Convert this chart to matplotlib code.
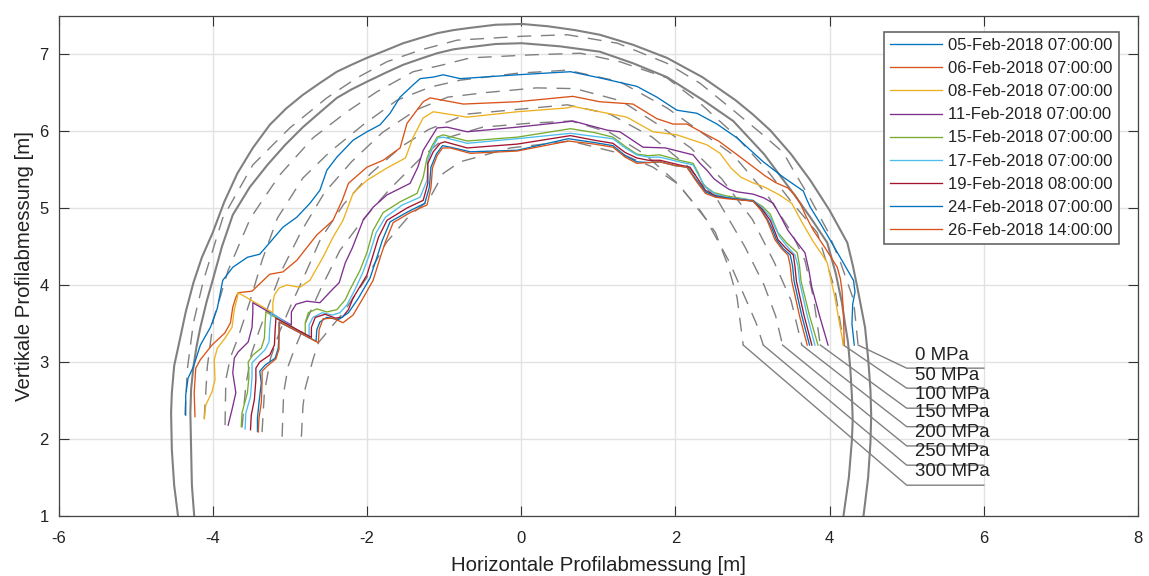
import matplotlib
matplotlib.use("Agg")
import matplotlib.pyplot as plt

plt.rcParams['font.family'] = ['Liberation Sans', 'DejaVu Sans']
plt.rcParams['axes.unicode_minus'] = False

# Tunnelprofil (aussen / innen)
outer_x = [-4.45, -4.50, -4.53, -4.54, -4.53, -4.50, -4.42, -4.35, -4.25, -4.14, -4.00, -3.85, -3.68, -3.48, -3.26, -3.05, -2.83, -2.60, -2.39, -2.20, -2.00, -1.75, -1.53, -1.30, -1.09, -0.88, -0.66, -0.33, 0.01, 0.35, 0.70, 1.02, 1.45, 1.89, 2.35, 2.78, 3.00, 3.23, 3.50, 3.75, 4.00, 4.23, 4.30, 4.36, 4.41, 4.46, 4.50, 4.53, 4.54, 4.53, 4.50, 4.44]
outer_y = [1.00, 1.40, 1.86, 2.34, 2.60, 2.95, 3.32, 3.65, 4.03, 4.36, 4.68, 5.08, 5.45, 5.78, 6.08, 6.29, 6.47, 6.63, 6.77, 6.86, 6.95, 7.05, 7.14, 7.21, 7.27, 7.31, 7.34, 7.38, 7.39, 7.36, 7.31, 7.25, 7.12, 6.95, 6.70, 6.40, 6.22, 6.01, 5.70, 5.36, 4.97, 4.55, 4.26, 3.97, 3.71, 3.45, 3.05, 2.64, 2.30, 1.95, 1.50, 1.00]
inner_x = [-4.24, -4.27, -4.28, -4.29, -4.28, -4.25, -4.21, -4.16, -4.08, -3.99, -3.88, -3.74, -3.52, -3.29, -3.06, -2.83, -2.60, -2.39, -2.20, -2.00, -1.75, -1.53, -1.30, -1.09, -0.88, -0.66, -0.33, 0.01, 0.50, 1.02, 1.45, 1.89, 2.36, 2.75, 3.15, 3.53, 3.75, 3.97, 4.08, 4.16, 4.20, 4.24, 4.27, 4.29, 4.30, 4.29, 4.25, 4.18]
inner_y = [1.00, 1.40, 1.86, 2.34, 2.65, 2.94, 3.20, 3.45, 3.78, 4.10, 4.50, 4.91, 5.27, 5.56, 5.82, 6.05, 6.25, 6.43, 6.54, 6.64, 6.76, 6.86, 6.94, 7.01, 7.06, 7.09, 7.13, 7.14, 7.10, 7.03, 6.88, 6.70, 6.40, 6.13, 5.70, 5.19, 4.88, 4.55, 4.15, 3.77, 3.50, 3.25, 2.90, 2.55, 2.25, 1.99, 1.50, 1.00]

# Spannungslinien
mpa0_x = [-4.36, -4.33, -4.25, -4.12, -3.87, -3.48, -3.00, -2.52, -2.13, -1.74, -1.31, -0.83, 0.01, 0.60, 1.25, 1.89, 2.32, 2.75, 3.10, 3.40, 3.53, 3.75, 3.97, 4.15, 4.31, 4.37]
mpa0_y = [2.31, 2.90, 3.51, 4.06, 4.87, 5.56, 6.04, 6.43, 6.69, 6.90, 7.05, 7.18, 7.23, 7.25, 7.14, 6.88, 6.62, 6.27, 5.98, 5.72, 5.49, 5.12, 4.71, 4.27, 3.81, 3.22]
mpa50_x = [-4.11, -4.07, -3.99, -3.80, -3.51, -3.13, -2.70, -2.26, -1.87, -1.40, -1.01, -0.66, 0.16, 0.77, 1.28, 1.89, 2.32, 2.75, 3.19, 3.49, 3.84, 4.07, 4.16, 4.18]
mpa50_y = [2.27, 2.94, 3.55, 4.19, 4.87, 5.43, 5.91, 6.25, 6.51, 6.77, 6.86, 6.95, 6.99, 7.01, 6.90, 6.69, 6.36, 5.97, 5.49, 5.10, 4.68, 3.94, 3.38, 3.22]
mpa100_x = [-3.84, -3.83, -3.77, -3.67, -3.51, -3.36, -3.16, -2.83, -2.48, -2.05, -1.61, -1.18, -0.79, -0.05, 0.60, 1.28, 1.89, 2.75, 3.19, 3.49, 3.68, 3.79, 3.88]
mpa100_y = [2.18, 2.77, 3.06, 3.32, 3.81, 4.32, 4.87, 5.39, 5.73, 6.08, 6.40, 6.57, 6.66, 6.75, 6.79, 6.64, 6.30, 5.69, 5.17, 4.71, 4.32, 3.84, 3.22]
mpa150_x = [-3.62, -3.57, -3.50, -3.40, -3.27, -3.10, -2.85, -2.55, -2.20, -1.80, -1.35, -0.95, -0.45, 0.20, 0.70, 1.30, 1.75, 2.20, 2.60, 3.00, 3.28, 3.50, 3.64]
mpa150_y = [2.15, 2.70, 3.10, 3.40, 3.75, 4.20, 4.70, 5.20, 5.60, 5.98, 6.28, 6.44, 6.50, 6.56, 6.55, 6.39, 6.10, 5.78, 5.38, 4.85, 4.30, 3.80, 3.22]
mpa200_x = [-3.36, -3.33, -3.25, -3.13, -2.98, -2.82, -2.60, -2.30, -1.95, -1.55, -1.20, -0.70, -0.05, 0.60, 1.15, 1.70, 2.15, 2.55, 2.90, 3.15, 3.30, 3.39]
mpa200_y = [2.09, 2.60, 3.05, 3.40, 3.75, 4.10, 4.60, 5.05, 5.45, 5.80, 6.02, 6.22, 6.28, 6.34, 6.22, 5.92, 5.55, 5.10, 4.50, 4.00, 3.60, 3.22]
mpa250_x = [-3.10, -3.08, -3.02, -2.95, -2.78, -2.60, -2.35, -2.05, -1.70, -1.30, -1.00, -0.50, 0.10, 0.65, 1.15, 1.60, 2.05, 2.40, 2.70, 2.92, 3.05, 3.14]
mpa250_y = [2.03, 2.60, 2.95, 3.14, 3.55, 3.95, 4.45, 4.85, 5.25, 5.65, 5.90, 6.05, 6.10, 6.13, 5.98, 5.70, 5.30, 4.85, 4.30, 3.80, 3.50, 3.22]
mpa300_x = [-2.85, -2.83, -2.80, -2.70, -2.63, -2.30, -2.00, -1.75, -1.45, -1.20, -1.01, -0.79, -0.14, 0.64, 1.28, 1.71, 2.02, 2.32, 2.52, 2.68, 2.80, 2.88]
mpa300_y = [2.03, 2.42, 2.66, 3.03, 3.25, 3.65, 4.10, 4.55, 4.90, 5.10, 5.45, 5.60, 5.78, 5.87, 5.71, 5.53, 5.32, 4.97, 4.68, 4.26, 3.84, 3.22]

# Hinweislinien zu den Beschriftungen
leader_y = [2.92, 2.66, 2.40, 2.16, 1.91, 1.66, 1.40]
mpa_labels = ['0 MPa', '50 MPa', '100 MPa', '150 MPa', '200 MPa', '250 MPa', '300 MPa']
label_y = [3.09, 2.83, 2.58, 2.34, 2.09, 1.84, 1.58]

# Messungen
feb05_x = [-4.35, -4.35, -4.32, -4.25, -4.16, -4.03, -3.94, -3.87, -3.74, -3.55, -3.39, -3.26, -3.09, -2.91, -2.74, -2.61, -2.52, -2.39, -2.18, -2.00, -1.83, -1.70, -1.57, -1.40, -1.31, -1.14, -1.01, -0.79, -0.05, 0.64, 1.02, 1.50, 1.76, 2.02, 2.28, 2.54, 2.80, 3.14, 3.40, 3.66, 3.70, 3.75, 3.88, 4.01, 4.16, 4.31, 4.33, 4.30, 4.29, 4.32]
feb05_y = [2.31, 2.57, 2.79, 2.94, 3.22, 3.45, 3.70, 4.06, 4.23, 4.36, 4.40, 4.55, 4.75, 4.88, 5.06, 5.23, 5.49, 5.66, 5.88, 5.99, 6.08, 6.23, 6.44, 6.60, 6.68, 6.70, 6.73, 6.68, 6.73, 6.77, 6.69, 6.58, 6.44, 6.27, 6.23, 6.09, 5.91, 5.60, 5.40, 5.22, 5.12, 5.01, 4.80, 4.58, 4.32, 4.06, 3.91, 3.75, 3.50, 3.22]
feb06_x = [-4.23, -4.24, -4.22, -4.16, -4.01, -3.84, -3.77, -3.74, -3.70, -3.67, -3.49, -3.26, -3.09, -2.91, -2.65, -2.44, -2.32, -2.24, -2.00, -1.79, -1.57, -1.48, -1.27, -1.18, -0.75, -0.05, 0.67, 1.02, 1.45, 1.76, 1.97, 2.15, 2.35, 2.56, 2.75, 2.91, 3.16, 3.30, 3.46, 3.55, 3.62, 3.70, 3.79, 3.95, 4.10, 4.14, 4.16, 4.18, 4.19]
feb06_y = [2.29, 2.60, 2.92, 3.03, 3.22, 3.38, 3.51, 3.71, 3.84, 3.90, 3.92, 4.14, 4.17, 4.32, 4.65, 4.84, 5.10, 5.32, 5.53, 5.62, 5.78, 6.10, 6.38, 6.43, 6.35, 6.38, 6.45, 6.38, 6.35, 6.16, 6.09, 6.09, 5.98, 5.87, 5.73, 5.61, 5.42, 5.33, 5.26, 5.17, 5.06, 4.88, 4.71, 4.47, 4.23, 4.08, 3.94, 3.64, 3.22]
feb08_x = [-4.11, -4.09, -4.01, -3.97, -3.98, -3.94, -3.84, -3.75, -3.72, -3.68, -3.67, -3.22, -3.22, -3.20, -3.14, -3.04, -2.87, -2.74, -2.57, -2.44, -2.31, -2.18, -2.00, -1.74, -1.50, -1.40, -1.27, -1.14, -0.70, -0.05, 0.60, 0.67, 1.12, 1.37, 1.71, 2.02, 2.41, 2.58, 2.72, 2.85, 3.00, 3.16, 3.35, 3.51, 3.65, 3.79, 3.90, 3.97, 4.02, 4.07, 4.12, 4.18]
feb08_y = [2.26, 2.44, 2.61, 2.77, 3.03, 3.18, 3.31, 3.45, 3.68, 3.84, 3.90, 3.64, 3.77, 3.87, 3.96, 4.00, 3.97, 4.06, 4.36, 4.62, 4.84, 5.19, 5.36, 5.52, 5.65, 5.92, 6.17, 6.25, 6.18, 6.25, 6.30, 6.32, 6.23, 6.18, 5.99, 5.95, 5.82, 5.71, 5.52, 5.40, 5.33, 5.27, 5.17, 5.06, 4.80, 4.56, 4.40, 4.29, 4.06, 3.84, 3.55, 3.22]
feb11_x = [-3.80, -3.75, -3.70, -3.74, -3.72, -3.67, -3.54, -3.49, -3.48, -3.48, -2.98, -2.98, -2.92, -2.78, -2.61, -2.44, -2.36, -2.28, -2.19, -2.05, -1.92, -1.74, -1.44, -1.34, -1.27, -1.09, -0.96, -0.70, -0.05, 0.60, 0.67, 1.12, 1.28, 1.58, 1.87, 2.23, 2.32, 2.41, 2.50, 2.58, 2.70, 2.80, 3.01, 3.15, 3.27, 3.37, 3.46, 3.58, 3.68, 3.73, 3.77, 3.87, 3.98]
feb11_y = [2.18, 2.38, 2.60, 2.86, 3.05, 3.13, 3.26, 3.45, 3.64, 3.77, 3.48, 3.65, 3.75, 3.79, 3.77, 3.95, 4.03, 4.29, 4.48, 4.84, 5.01, 5.17, 5.32, 5.53, 5.75, 6.04, 6.05, 5.99, 6.05, 6.12, 6.13, 6.01, 5.99, 5.79, 5.78, 5.69, 5.58, 5.49, 5.38, 5.32, 5.24, 5.21, 5.18, 5.13, 5.06, 4.88, 4.71, 4.55, 4.42, 4.20, 3.97, 3.60, 3.22]
feb15_x = [-3.63, -3.62, -3.55, -3.53, -3.54, -3.48, -3.37, -3.33, -3.32, -3.31, -2.80, -2.80, -2.76, -2.65, -2.52, -2.39, -2.28, -2.22, -2.09, -2.00, -1.92, -1.79, -1.57, -1.35, -1.27, -1.22, -1.16, -1.09, -1.01, -0.70, -0.05, 0.64, 0.95, 1.19, 1.35, 1.50, 1.65, 1.80, 2.05, 2.23, 2.30, 2.36, 2.50, 2.65, 3.00, 3.13, 3.23, 3.28, 3.33, 3.45, 3.58, 3.61, 3.63, 3.74, 3.85]
feb15_y = [2.16, 2.34, 2.60, 2.81, 3.00, 3.09, 3.18, 3.31, 3.51, 3.65, 3.35, 3.51, 3.64, 3.69, 3.65, 3.68, 3.81, 3.94, 4.19, 4.42, 4.71, 4.94, 5.08, 5.19, 5.40, 5.65, 5.80, 5.92, 5.95, 5.87, 5.92, 6.03, 5.98, 5.92, 5.80, 5.70, 5.68, 5.69, 5.62, 5.58, 5.45, 5.30, 5.20, 5.16, 5.10, 5.02, 4.92, 4.80, 4.68, 4.54, 4.42, 4.25, 4.05, 3.60, 3.22]
feb17_x = [-3.58, -3.57, -3.51, -3.49, -3.49, -3.42, -3.32, -3.27, -3.26, -3.24, -2.75, -2.75, -2.70, -2.58, -2.45, -2.35, -2.26, -2.15, -2.05, -1.96, -1.88, -1.76, -1.54, -1.31, -1.22, -1.21, -1.15, -1.08, -1.01, -0.70, -0.05, 0.64, 0.95, 1.19, 1.35, 1.50, 1.65, 1.80, 2.05, 2.23, 2.31, 2.39, 2.52, 2.67, 3.01, 3.13, 3.23, 3.29, 3.35, 3.45, 3.55, 3.59, 3.61, 3.71, 3.81]
feb17_y = [2.13, 2.34, 2.55, 2.81, 2.99, 3.06, 3.16, 3.26, 3.45, 3.64, 3.31, 3.48, 3.58, 3.64, 3.61, 3.64, 3.74, 3.95, 4.17, 4.42, 4.68, 4.88, 5.04, 5.14, 5.36, 5.62, 5.78, 5.91, 5.92, 5.84, 5.90, 5.97, 5.93, 5.90, 5.78, 5.69, 5.66, 5.66, 5.60, 5.56, 5.41, 5.27, 5.18, 5.14, 5.10, 5.00, 4.88, 4.76, 4.63, 4.50, 4.39, 4.25, 4.05, 3.60, 3.22]
feb19_x = [-3.51, -3.50, -3.46, -3.44, -3.44, -3.39, -3.26, -3.20, -3.19, -3.18, -2.72, -2.72, -2.67, -2.54, -2.41, -2.32, -2.24, -2.18, -2.00, -1.92, -1.85, -1.74, -1.48, -1.27, -1.21, -1.21, -1.14, -1.05, -0.99, -0.70, -0.05, 0.64, 0.95, 1.19, 1.35, 1.50, 1.65, 1.80, 2.05, 2.19, 2.29, 2.39, 2.52, 2.67, 3.01, 3.13, 3.23, 3.28, 3.33, 3.43, 3.53, 3.55, 3.57, 3.67, 3.77]
feb19_y = [2.12, 2.31, 2.51, 2.77, 2.92, 3.00, 3.09, 3.22, 3.42, 3.57, 3.32, 3.45, 3.58, 3.62, 3.57, 3.58, 3.68, 3.83, 4.13, 4.39, 4.62, 4.84, 5.00, 5.10, 5.32, 5.58, 5.73, 5.84, 5.86, 5.78, 5.83, 5.94, 5.88, 5.84, 5.72, 5.65, 5.62, 5.62, 5.56, 5.53, 5.38, 5.23, 5.16, 5.13, 5.09, 4.98, 4.84, 4.72, 4.59, 4.48, 4.39, 4.25, 4.05, 3.60, 3.22]
feb24_x = [-3.42, -3.42, -3.40, -3.37, -3.39, -3.32, -3.19, -3.15, -3.14, -3.14, -2.66, -2.65, -2.61, -2.52, -2.37, -2.24, -2.11, -1.96, -1.87, -1.80, -1.70, -1.47, -1.25, -1.19, -1.17, -1.10, -1.02, -0.92, -0.66, -0.05, 0.61, 0.95, 1.19, 1.35, 1.50, 1.65, 1.80, 2.00, 2.15, 2.27, 2.39, 2.52, 2.67, 3.01, 3.12, 3.20, 3.26, 3.31, 3.40, 3.49, 3.52, 3.54, 3.64, 3.74]
feb24_y = [2.10, 2.27, 2.47, 2.73, 2.88, 2.96, 3.05, 3.18, 3.38, 3.52, 3.27, 3.42, 3.52, 3.58, 3.55, 3.64, 3.83, 4.09, 4.36, 4.58, 4.82, 4.95, 5.06, 5.27, 5.53, 5.70, 5.81, 5.79, 5.73, 5.75, 5.90, 5.85, 5.81, 5.68, 5.60, 5.59, 5.60, 5.55, 5.53, 5.37, 5.21, 5.15, 5.13, 5.09, 4.97, 4.84, 4.72, 4.59, 4.47, 4.39, 4.25, 4.05, 3.60, 3.22]
feb26_x = [-3.41, -3.40, -3.37, -3.36, -3.36, -3.29, -3.18, -3.14, -3.14, -3.13, -2.63, -2.62, -2.57, -2.44, -2.31, -2.18, -2.05, -1.92, -1.83, -1.76, -1.66, -1.44, -1.22, -1.17, -1.15, -1.09, -1.02, -0.92, -0.66, -0.05, 0.61, 0.95, 1.19, 1.35, 1.50, 1.65, 1.80, 2.00, 2.15, 2.27, 2.39, 2.52, 2.67, 3.01, 3.11, 3.19, 3.24, 3.29, 3.38, 3.46, 3.49, 3.51, 3.61, 3.71]
feb26_y = [2.09, 2.27, 2.47, 2.73, 2.88, 2.95, 3.04, 3.17, 3.35, 3.52, 3.25, 3.42, 3.56, 3.57, 3.51, 3.61, 3.83, 4.06, 4.35, 4.56, 4.81, 4.94, 5.04, 5.26, 5.52, 5.68, 5.78, 5.78, 5.71, 5.74, 5.87, 5.83, 5.79, 5.66, 5.58, 5.59, 5.60, 5.55, 5.53, 5.35, 5.19, 5.14, 5.12, 5.09, 4.97, 4.84, 4.72, 4.59, 4.47, 4.39, 4.25, 4.05, 3.60, 3.22]

dates = ['05-Feb-2018 07:00:00', '06-Feb-2018 07:00:00', '08-Feb-2018 07:00:00',
         '11-Feb-2018 07:00:00', '15-Feb-2018 07:00:00', '17-Feb-2018 07:00:00',
         '19-Feb-2018 08:00:00', '24-Feb-2018 07:00:00', '26-Feb-2018 14:00:00']
colors = ['#0072BD', '#D95319', '#EDB120', '#7E2F8E', '#77AC30', '#4DBEEE', '#A2142F', '#0072BD', '#D95319']
measured = [(feb05_x, feb05_y), (feb06_x, feb06_y), (feb08_x, feb08_y), (feb11_x, feb11_y), (feb15_x, feb15_y),
            (feb17_x, feb17_y), (feb19_x, feb19_y), (feb24_x, feb24_y), (feb26_x, feb26_y)]
contours = [(mpa0_x, mpa0_y), (mpa50_x, mpa50_y), (mpa100_x, mpa100_y), (mpa150_x, mpa150_y),
            (mpa200_x, mpa200_y), (mpa250_x, mpa250_y), (mpa300_x, mpa300_y)]

fig = plt.figure(figsize=(11.49, 5.76), dpi=100)
ax = fig.add_axes([58.5 / 1149, 1 - 516 / 576, (1138 - 58.5) / 1149, (516 - 15.5) / 576])

ax.plot(outer_x, outer_y, color='#808080', lw=1.5)
ax.plot(inner_x, inner_y, color='#808080', lw=1.5)

for (cx, cy), ly, label, ty in zip(contours, leader_y, mpa_labels, label_y):
    ax.plot(cx, cy, color='#808080', lw=1.0, dashes=(10, 7))
    ax.plot([cx[-1], 5.0, 6.0], [cy[-1], ly, ly], color='#808080', lw=1.0)
    ax.text(5.11, ty, label, fontsize=13.4, va='center', ha='left', color='#222222')

for (mx, my), c, d in zip(measured, colors, dates):
    ax.plot(mx, my, color=c, lw=0.95, label=d, solid_joinstyle='round')

ax.set_xlim(-6, 8)
ax.set_ylim(1, 7.5)
ax.set_xticks(range(-6, 9, 2))
ax.set_yticks(range(1, 8))
ax.grid(True, color='#e2e2e2', lw=1.0)
ax.set_axisbelow(True)
ax.tick_params(direction='in', top=True, right=True, length=7, width=0.8, labelsize=12, color='#333333', labelcolor='#222222')
ax.tick_params(axis='x', pad=11)
ax.tick_params(axis='y', pad=7)
for s in ax.spines.values():
    s.set_color('#444444')
    s.set_linewidth(0.9)
ax.set_xlabel('Horizontale Profilabmessung [m]', fontsize=14.7, color='#222222', labelpad=7)
ax.set_ylabel('Vertikale Profilabmessung [m]', fontsize=14.7, color='#222222', labelpad=4)

leg = ax.legend(loc='upper left', bbox_to_anchor=((884 - 58.5) / 1079.5, 1 - (32 - 15.5) / 500.5),
                fontsize=12, fancybox=False, framealpha=1, edgecolor='#666666', handlelength=3.1,
                labelspacing=0.49, borderpad=0.35, handletextpad=0.42, borderaxespad=0)
leg.get_frame().set_linewidth(1.2)
for t in leg.get_texts():
    t.set_color('#222222')

fig.savefig('out.png', dpi=100)
